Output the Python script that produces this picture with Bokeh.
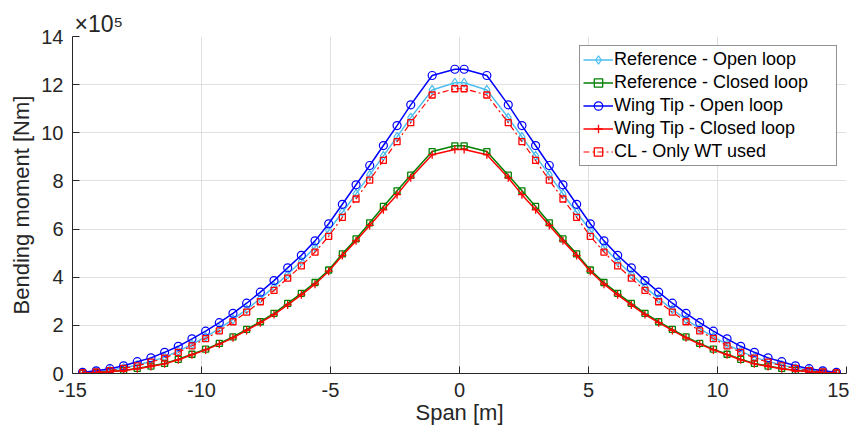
from bokeh.plotting import figure
from bokeh.models import Range1d, FixedTicker, PrintfTickFormatter
from bokeh.embed import file_html
from bokeh.resources import INLINE

# Span positions (left half, m); the right half mirrors it
span_left = [-14.61, -14.08, -13.55, -13.02, -12.49, -11.96, -11.43, -10.90, -10.37,
             -9.84, -9.31, -8.78, -8.25, -7.72, -7.19, -6.66, -6.13, -5.60, -5.07,
             -4.54, -4.01, -3.48, -2.95, -2.42, -1.89, -1.06, -0.18]

# Bending moment (x 1e5 Nm), left half
ref_ol_left = [0.04, 0.08, 0.14, 0.23, 0.35, 0.50, 0.68, 0.93, 1.21, 1.52, 1.86, 2.25,
               2.66, 3.11, 3.60, 4.12, 4.66, 5.25, 5.94, 6.70, 7.46, 8.25, 9.04, 9.83,
               10.63, 11.78, 12.08]
ref_cl_left = [0.02, 0.04, 0.08, 0.13, 0.21, 0.31, 0.42, 0.59, 0.80, 1.01, 1.25, 1.52,
               1.83, 2.15, 2.50, 2.91, 3.33, 3.78, 4.30, 4.97, 5.59, 6.26, 6.94, 7.59,
               8.24, 9.22, 9.46]
wt_ol_left = [0.05, 0.11, 0.20, 0.32, 0.49, 0.65, 0.88, 1.13, 1.44, 1.76, 2.11, 2.50,
              2.92, 3.38, 3.86, 4.39, 4.91, 5.51, 6.22, 7.03, 7.84, 8.64, 9.47, 10.30,
              11.16, 12.38, 12.64]
wt_cl_left = [0.01, 0.03, 0.07, 0.12, 0.20, 0.29, 0.40, 0.57, 0.78, 0.98, 1.22, 1.48,
              1.79, 2.11, 2.45, 2.85, 3.27, 3.71, 4.25, 4.90, 5.51, 6.15, 6.80, 7.43,
              8.13, 9.09, 9.31]
cl_wt_left = [0.03, 0.07, 0.12, 0.21, 0.32, 0.47, 0.64, 0.88, 1.15, 1.45, 1.77, 2.15,
              2.55, 2.98, 3.45, 3.96, 4.47, 5.04, 5.70, 6.49, 7.25, 8.03, 8.85, 9.63,
              10.42, 11.57, 11.83]

x_ticks = [-15, -10, -5, 0, 5, 10, 15]
y_ticks = [0, 2, 4, 6, 8, 10, 12, 14]


def mirror_x(v):
    return v + [-a for a in reversed(v)]


def mirror_y(v):
    return v + list(reversed(v))


span = mirror_x(span_left)
ref_ol = mirror_y(ref_ol_left)
ref_cl = mirror_y(ref_cl_left)
wt_ol = mirror_y(wt_ol_left)
wt_cl = mirror_y(wt_cl_left)
cl_wt = mirror_y(cl_wt_left)

FONT = "Liberation Sans"
AX = "#262626"

p = figure(width=849, height=427, output_backend="svg", toolbar_location=None,
           x_range=Range1d(-15, 15), y_range=Range1d(0, 14),
           min_border_left=72, min_border_right=3, min_border_top=36,
           min_border_bottom=54)
p.outline_line_color = None
p.background_fill_color = "white"
p.border_fill_color = "white"

for ax in (p.xaxis[0], p.yaxis[0]):
    ax.axis_line_color = AX
    ax.axis_line_width = 1
    ax.major_tick_line_color = AX
    ax.major_tick_in = 7
    ax.major_tick_out = 0
    ax.minor_tick_line_color = None
    ax.major_label_text_font = FONT
    ax.major_label_text_font_size = "20px"
    ax.major_label_text_color = AX
    ax.axis_label_text_font = FONT
    ax.axis_label_text_font_size = "22px"
    ax.axis_label_text_font_style = "normal"
    ax.axis_label_text_color = AX
    ax.formatter = PrintfTickFormatter(format="%d")

p.xaxis.ticker = FixedTicker(ticks=x_ticks)
p.yaxis.ticker = FixedTicker(ticks=y_ticks)
p.xaxis.axis_label = "Span [m]"
p.yaxis.axis_label = "Bending moment [Nm]"
p.xaxis.major_label_standoff = 9
p.yaxis.major_label_standoff = 9
p.xaxis.axis_label_standoff = 0
p.yaxis.axis_label_standoff = 4

p.xgrid.ticker = FixedTicker(ticks=x_ticks)
p.ygrid.ticker = FixedTicker(ticks=y_ticks)
for g in (p.xgrid[0], p.ygrid[0]):
    g.grid_line_color = "#dfdfdf"
    g.grid_line_width = 1

LW = 1.5
c_ref_ol = "#4DBEEE"
c_ref_cl = "#008000"
c_wt_ol = "#0000FF"
c_wt_cl = "#FF0000"

lab1 = "Reference - Open loop"
lab2 = "Reference - Closed loop"
lab3 = "Wing Tip - Open loop"
lab4 = "Wing Tip - Closed loop"
lab5 = "CL - Only WT used"

p.line(span, ref_ol, line_color=c_ref_ol, line_width=LW, legend_label=lab1)
p.scatter(span, ref_ol, marker="diamond", size=9, line_color=c_ref_ol,
          fill_color=None, line_width=1.2, legend_label=lab1)

p.line(span, ref_cl, line_color=c_ref_cl, line_width=LW, legend_label=lab2)
p.scatter(span, ref_cl, marker="square", size=6, line_color=c_ref_cl,
          fill_color=None, line_width=1.3, legend_label=lab2)

p.line(span, wt_ol, line_color=c_wt_ol, line_width=LW, legend_label=lab3)
p.scatter(span, wt_ol, marker="circle", size=8, line_color=c_wt_ol,
          fill_color=None, line_width=1.2, legend_label=lab3)

p.line(span, wt_cl, line_color=c_wt_cl, line_width=LW, legend_label=lab4)
p.scatter(span, wt_cl, marker="cross", size=8, line_color=c_wt_cl,
          line_width=1.3, legend_label=lab4)

p.line(span, cl_wt, line_color=c_wt_cl, line_width=1.2, line_dash="6 3 2 3",
       legend_label=lab5)
p.scatter(span, cl_wt, marker="square", size=6, line_color=c_wt_cl,
          fill_color=None, line_width=1.3, legend_label=lab5)

lg = p.legend[0]
lg.location = "top_right"
lg.margin = 9
lg.padding = 3
lg.spacing = 2
lg.glyph_width = 30
lg.glyph_height = 21
lg.label_height = 21
lg.label_width = 219
lg.label_standoff = 1
lg.label_text_font = FONT
lg.label_text_font_size = "18px"
lg.label_text_color = "black"
lg.border_line_color = AX
lg.border_line_width = 1
lg.background_fill_color = "white"
lg.background_fill_alpha = 1

p.title.text = "×10⁵"
p.title.align = "left"
p.title.offset = 2
p.title.standoff = 0
p.title.text_font = FONT
p.title.text_font_size = "23px"
p.title.text_color = AX
p.title.text_font_style = "normal"

open("out.html", "w").write(file_html(p, INLINE))
